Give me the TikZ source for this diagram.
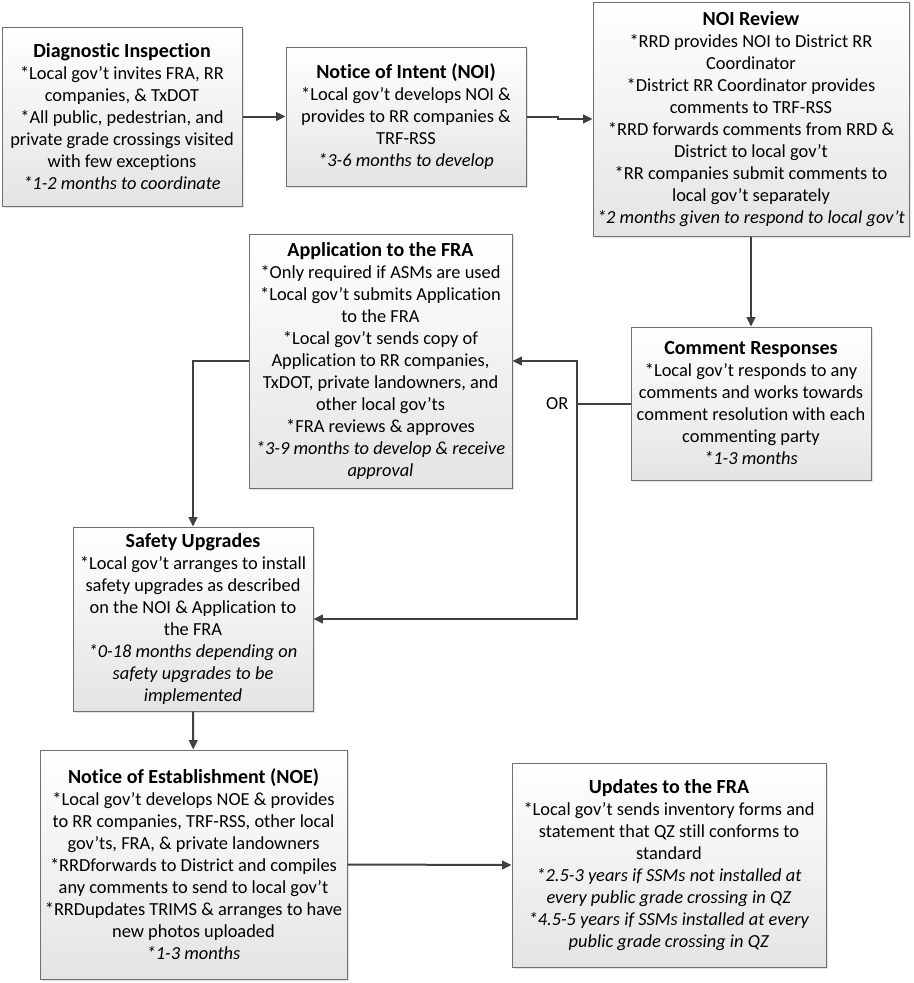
\documentclass[tikz,border=0pt]{standalone}
\usepackage{fontspec}
\setmainfont[Ligatures=NoCommon]{Carlito}
\usetikzlibrary{arrows.meta,positioning,shadows}
\definecolor{boxline}{HTML}{707070}
\definecolor{boxfill}{HTML}{E4E4E4}
\definecolor{linkgray}{HTML}{404040}
\newcommand{\head}[1]{{\fontsize{15pt}{16.5pt}\selectfont\bfseries #1}}
\begin{document}
\begin{tikzpicture}[x=0.75pt,y=-0.75pt,
        box/.style={draw=boxline,line width=0.75pt,top color=white,bottom color=boxfill,
            drop shadow={shadow xshift=1.5pt,shadow yshift=-1.5pt,fill=black!22},
            align=center,inner sep=0pt,font=\fontsize{13.8pt}{16.5pt}\selectfont},
        link/.style={draw=linkgray,line width=1.5pt,-{Triangle[length=7pt,width=6.5pt]}}]
\useasboundingbox (0,0) rectangle (914,983);

\node[box,minimum width=180pt,minimum height=134.25pt] (diag) at (122,116.5)
    {\head{Diagnostic Inspection}\\{*}Local gov’t invites FRA, RR\\companies, \& TxDOT\\{*}All public, pedestrian, and\\private grade crossings visited\\with few exceptions\\\textit{*1-2 months to coordinate}};
\node[box,minimum width=180pt,minimum height=104.25pt] (noi) at (406,116.5)
    {\head{Notice of Intent (NOI)}\\{*}Local gov’t develops NOI \&\\provides to RR companies \&\\TRF-RSS\\\textit{*3-6 months to develop}};
\node[box,minimum width=237pt,minimum height=175.5pt] (review) at (751,119)
    {\head{NOI Review}\\{*}RRD provides NOI to District RR\\Coordinator\\{*}District RR Coordinator provides\\comments to TRF-RSS\\{*}RRD forwards comments from RRD \&\\District to local gov’t\\{*}RR companies submit comments to\\local gov’t separately\\\textit{*2 months given to respond to local gov’t}};
\node[box,minimum width=197.25pt,minimum height=190.5pt] (app) at (380.5,361)
    {\head{Application to the FRA}\\{*}Only required if ASMs are used\\{*}Local gov’t submits Application\\to the FRA\\{*}Local gov’t sends copy of\\Application to RR companies,\\TxDOT, private landowners, and\\other local gov’ts\\{*}FRA reviews \& approves\\\textit{*3-9 months to develop \& receive}\\\textit{approval}};
\node[box,minimum width=180pt,minimum height=114.75pt] (resp) at (751,403.5)
    {\head{Comment Responses}\\{*}Local gov’t responds to any\\comments and works towards\\comment resolution with each\\commenting party\\\textit{*1-3 months}};
\node[box,minimum width=180pt,minimum height=138pt] (safety) at (193,619)
    {\head{Safety Upgrades}\\{*}Local gov’t arranges to install\\safety upgrades as described\\on the NOI \& Application to\\the FRA\\\textit{*0-18 months depending on}\\\textit{safety upgrades to be}\\\textit{implemented}};
\node[box,minimum width=230.25pt,minimum height=171.75pt] (noe) at (193.5,864.5)
    {\head{Notice of Establishment (NOE)}\\{*}Local gov’t develops NOE \& provides\\to RR companies, TRF-RSS, other local\\gov’ts, FRA, \& private landowners\\{*}RRDforwards to District and compiles\\any comments to send to local gov’t\\{*}RRDupdates TRIMS \& arranges to have\\new photos uploaded\\\textit{*1-3 months}};
\node[box,minimum width=235.5pt,minimum height=153pt] (upd) at (669,865)
    {\head{Updates to the FRA}\\{*}Local gov’t sends inventory forms and\\statement that QZ still conforms to\\standard\\\textit{*2.5-3 years if SSMs not installed at}\\\textit{every public grade crossing in QZ}\\\textit{*4.5-5 years if SSMs installed at every}\\\textit{public grade crossing in QZ}};

\coordinate (split) at (577,403.5);
\node[left=3pt of split,font=\fontsize{13.8pt}{16.5pt}\selectfont] (or) {OR};

\draw[link] (diag) -- (noi);
\draw[link] (noi.east) -- ++(31,0) |- (review.west);
\draw[link] (review) -- (resp);
\draw[draw=linkgray,line width=1.5pt] (resp.west) -- (split);
\draw[link] (split) |- (app.east);
\draw[link] (split) |- (safety.east);
\draw[link] (app.west) -| (safety.north);
\draw[link] (safety) -- (noe);
\draw[link] (noe.east) -- (upd.west);
\end{tikzpicture}
\end{document}
